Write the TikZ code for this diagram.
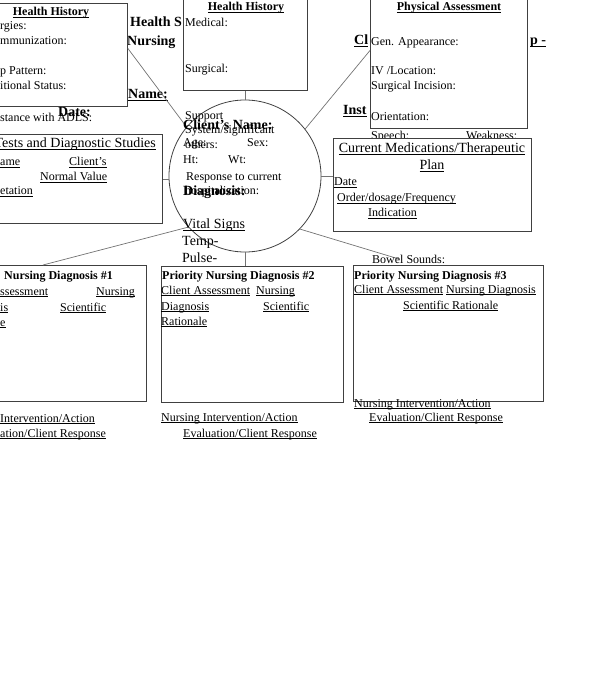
\documentclass[tikz,border=0pt]{standalone}
\usepackage{fontspec}
\setmainfont{Liberation Serif}
\usepackage{tikz}
\usetikzlibrary{positioning,calc}
\newcommand{\undl}[1]{\underline{\smash{#1}}}

\begin{document}
\begin{tikzpicture}[x=1pt, y=-1pt, every node/.style={inner sep=0pt, font=\fontsize{12}{15}\selectfont}]
\tikzset{box/.style={draw=black!75, fill=white, line width=0.9pt, anchor=north west}}
\tikzset{link/.style={draw=black!55, line width=0.7pt}}
\tikzset{lbl/.style={anchor=base west}}
\tikzset{big/.style={font=\fontsize{14}{16}\selectfont}}
\tikzset{hdr/.style={font=\fontsize{12}{15}\selectfont\bfseries}}
\tikzset{bighdr/.style={font=\fontsize{14}{16}\selectfont\bfseries}}
\clip (0,0) rectangle (613,700);
% heading text behind the boxes
\node[lbl, bighdr] (hs) at (130,27) {Health S};
\node[lbl, bighdr] (nurs) at (127,46) {Nursing};
\node[lbl, bighdr] (name) at (128,99) {\undl{Name:}};
\node[lbl, bighdr] (date) at (58,117) {Date:};
\node[lbl] (adl) at (0,122) {stance with ADLS:};
\node[lbl, bighdr] (cl) at (354,45) {\undl{Cl}};
\node[lbl, bighdr] (map) at (530,45) {\undl{p -}};
\node[lbl, bighdr] (inst) at (343,115) {\undl{Inst}};
\node[lbl] (speech) at (371,140) {Speech:};
\node[lbl] (weak) at (466,140) {Weakness:};
% boxes and centre circle
\node[box, minimum width=147pt, minimum height=103pt] (hhl) at (-20,3) {};
\node[box, minimum width=124pt, minimum height=95pt] (hhm) at (183,-5) {};
\node[box, minimum width=157pt, minimum height=133pt] (phys) at (370,-5) {};
\node[box, minimum width=182pt, minimum height=89pt] (tests) at (-20,134) {};
\node[box, minimum width=198pt, minimum height=93pt] (meds) at (333,138) {};
\node[box, minimum width=166pt, minimum height=136pt] (dxa) at (-20,265) {};
\node[box, minimum width=182pt, minimum height=136pt] (dxb) at (161,266) {};
\node[box, minimum width=190pt, minimum height=136pt] (dxc) at (353,265) {};
\node[circle, draw=black!75, line width=0.8pt, minimum size=152pt] (circ) at (245,176) {};
\coordinate (bowend) at (399,259);
\coordinate (dxatop) at (43,265);
\draw[link] ([yshift=6.5pt]hhl.east) -- (circ.140);
\draw[link] (hhm.south -| circ.north) -- (circ.north);
\draw[link] (circ.38) -- ([yshift=11.5pt]phys.west);
\draw[link] (tests.east) -- (tests.east -| circ.west);
\draw[link] (circ.east) -- (circ.east -| meds.west);
\draw[link] (circ.-44) -- (bowend);
\draw[link] (circ.222) -- (dxatop);
\draw[link] (circ.south) -- (circ.south |- dxb.north);
% health history (left)
\node[anchor=base, hdr] (hhlt) at (51,16) {\undl{Health History}};
\node[lbl] (allerg) at (0,30) {rgies:};
\node[lbl] (immun) at (0,45) {mmunization:};
\node[lbl] (sleep) at (0,75) {p Pattern:};
\node[lbl] (nutr) at (0,90) {itional Status:};
% health history (middle)
\node[anchor=base, hdr] (hhmt) at (246,11) {\undl{Health History}};
\node[lbl] (med) at (185,27) {Medical:};
\node[lbl] (surg) at (185,73) {Surgical:};
% physical assessment
\node[anchor=base, hdr] (physt) at (449,11) {\undl{Physical Assessment}};
\node[lbl] (gen) at (371,46) {Gen. Appearance:};
\node[lbl] (iv) at (371,75) {IV /Location:};
\node[lbl] (inc) at (371,90) {Surgical Incision:};
\node[lbl] (orient) at (371,121) {Orientation:};
% client data in the circle
\node[lbl] (supp) at (185,120) {Support};
\node[lbl] (sys) at (185,134) {System/significant};
\node[lbl] (oth) at (185,149) {others:};
\node[lbl, bighdr] (cname) at (183,130) {Client's Name:};
\node[lbl] (age) at (183,147) {Age:};
\node[lbl] (sex) at (247,147) {Sex:};
\node[lbl] (ht) at (183,164) {Ht:};
\node[lbl] (wt) at (228,164) {Wt:};
\node[lbl] (resp) at (186,181) {Response to current};
\node[lbl] (hosp) at (185,195) {hospitalization:};
\node[lbl, bighdr] (diag) at (183,196) {Diagnosis:};
\node[lbl, big] (vital) at (183,229) {\undl{Vital Signs}};
\node[lbl, big] (temp) at (182,246) {Temp-};
\node[lbl, big] (pulse) at (182,262) {Pulse-};
% tests and diagnostic studies
\node[anchor=base east, big] (testt) at (156,148) {\undl{Tests and Diagnostic Studies}};
\node[lbl] (tname) at (0,166) {\undl{ame}};
\node[lbl] (tcli) at (69,166) {\undl{Client's}};
\node[lbl] (tnorm) at (40,181) {\undl{Normal Value}};
\node[lbl] (tint) at (0,195) {\undl{etation}};
% current medications
\node[anchor=base, big] (medt) at (432,153) {\undl{Current Medications/Therapeutic}};
\node[anchor=base, big] (plan) at (432,170) {\undl{Plan}};
\node[lbl] (mdate) at (334,186) {\undl{Date}};
\node[lbl] (order) at (337,202) {\undl{Order/dosage/Frequency}};
\node[lbl] (indic) at (368,217) {\undl{Indication}};
\node[lbl] (bowel) at (372,263) {Bowel Sounds:};
% nursing diagnosis #1
\node[lbl, hdr] (dxat) at (4,279) {Nursing Diagnosis \#1};
\node[lbl] (dxaca) at (0,295) {\undl{ssessment}};
\node[lbl] (dxan) at (96,295) {\undl{Nursing}};
\node[lbl] (dxad) at (0,311) {\undl{is}};
\node[lbl] (dxas) at (60,311) {\undl{Scientific}};
\node[lbl] (dxar) at (0,326) {\undl{e}};
\node[lbl] (dxai) at (0,422) {\undl{Intervention/Action}};
\node[lbl] (dxae) at (0,437) {\undl{ation/Client Response}};
% nursing diagnosis #2
\node[lbl, hdr] (dxbt) at (162,279) {Priority Nursing Diagnosis \#2};
\node[lbl] (dxbca) at (161,294) {\undl{Client Assessment}};
\node[lbl] (dxbn) at (256,294) {\undl{Nursing}};
\node[lbl] (dxbd) at (161,310) {\undl{Diagnosis}};
\node[lbl] (dxbs) at (263,310) {\undl{Scientific}};
\node[lbl] (dxbr) at (161,325) {\undl{Rationale}};
\node[lbl] (dxbi) at (161,421) {\undl{Nursing Intervention/Action}};
\node[lbl] (dxbe) at (183,437) {\undl{Evaluation/Client Response}};
% nursing diagnosis #3
\node[lbl, hdr] (dxct) at (354,279) {Priority Nursing Diagnosis \#3};
\node[lbl] (dxcca) at (354,293) {\undl{Client Assessment} \undl{Nursing Diagnosis}};
\node[lbl] (dxcs) at (403,309) {\undl{Scientific Rationale}};
\node[lbl] (dxci) at (354,407) {\undl{Nursing Intervention/Action}};
\node[lbl] (dxce) at (369,421) {\undl{Evaluation/Client Response}};
\end{tikzpicture}
\end{document}
